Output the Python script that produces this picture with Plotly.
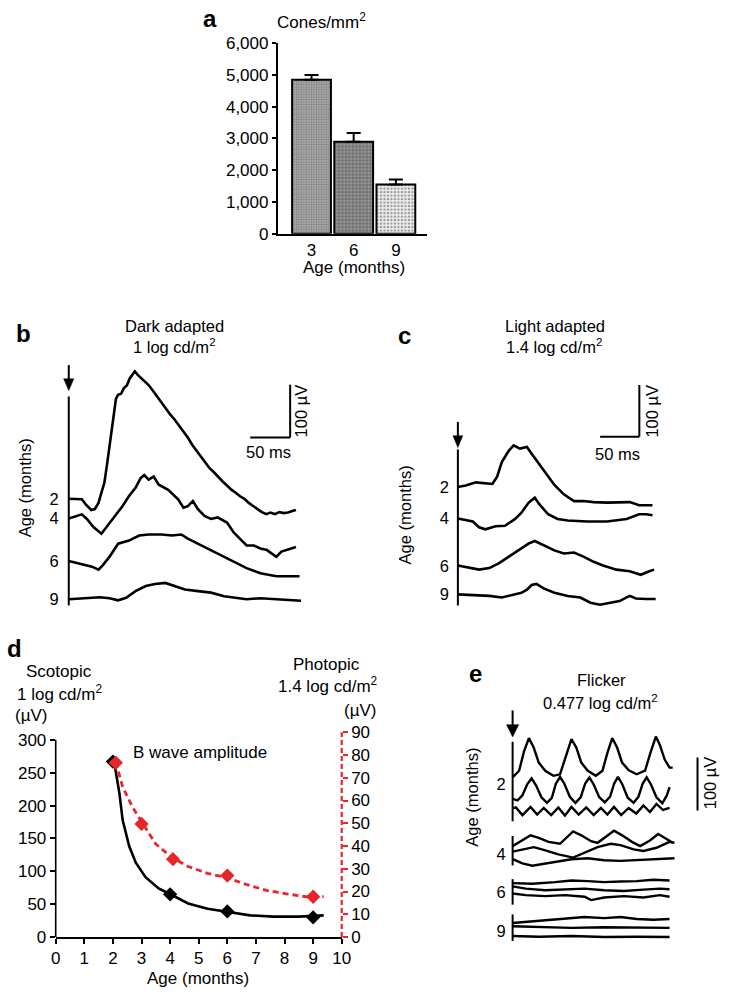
import plotly.graph_objects as go

W, H = 733, 1000
FONT = "Liberation Sans, Arial, Helvetica, sans-serif"
RED = "#e5262b"

def X(px):
    return px / W

def Y(py):
    return 1 - py / H

# ---------------- Panel a : cone density ----------------
a_ages = ["3", "6", "9"]
a_cones = [4850, 2900, 1550]
a_err = [150, 270, 160]
a_yticks = [0, 1000, 2000, 3000, 4000, 5000, 6000]

trace_ages = ["2", "4", "6", "9"]

# ---------------- Panel b : dark adapted ERG (ms, µV rel. to own baseline) ----------------
b2_t = [0, 10, 18, 24, 31, 36, 41, 45, 49, 53, 57, 61, 65, 68, 72, 76, 80, 84, 88, 91, 95, 100, 105, 110,
        116, 122, 128, 134, 140, 146, 152, 158, 164, 170, 176, 182, 188, 194, 200, 206, 212, 218, 224,
        230, 236, 242, 248, 254, 260, 266, 272, 278, 284, 290, 296, 302, 308, 313]
b2_v = [0, 0, -1, -12, -22, -20, -8, 12, 31, 70, 114, 150, 196, 204, 206, 217, 222, 236, 245, 250, 243,
        236, 231, 223, 212, 200, 190, 178, 165, 155, 143, 133, 120, 106, 95, 84, 72, 60, 52, 42, 34, 26,
        18, 12, 5, 0, -8, -14, -20, -26, -30, -27, -30, -26, -28, -27, -24, -22]
b4_t = [0, 9, 18, 25, 34, 45, 52, 61, 74, 83, 92, 99, 104, 110, 117, 124, 137, 151, 158, 164, 171, 178,
        187, 196, 205, 218, 227, 236, 245, 255, 264, 273, 286, 293, 300, 313]
b4_v = [0, 4, 8, -1, -17, -30, -17, 2, 24, 44, 60, 79, 85, 76, 82, 66, 56, 37, 21, 24, 34, 18, 5, -1, 2,
        -8, -27, -40, -53, -53, -59, -62, -75, -65, -62, -56]
b6_t = [0, 9, 20, 32, 41, 47, 56, 68, 83, 97, 110, 128, 142, 155, 164, 178, 191, 209, 227, 245, 264, 273,
        286, 304, 318]
b6_v = [0, -3, -6, -11, -17, -8, 8, 34, 40, 50, 52, 52, 50, 52, 44, 34, 24, 12, -1, -14, -24, -27, -30,
        -30, -30]
b9_t = [0, 25, 43, 56, 68, 79, 92, 106, 119, 133, 146, 160, 178, 196, 214, 227, 245, 264, 282, 304, 320]
b9_v = [0, 2, 4, 2, -2, 3, 16, 26, 30, 32, 26, 19, 16, 13, 6, 3, 0, 2, 0, -2, -3]

# ---------------- Panel c : light adapted ERG ----------------
c2_t = [0, 10, 23, 31, 44, 50, 56, 65, 71, 79, 88, 94, 102, 110, 123, 135, 148, 160, 173, 190, 206, 219,
        231, 248]
c2_v = [0, 3, 9, 8, 6, 20, 48, 70, 80, 74, 77, 64, 48, 30, 4, -14, -27, -27, -29, -30, -30, -29, -35, -35]
c4_t = [0, 10, 19, 27, 35, 48, 60, 73, 81, 90, 98, 104, 115, 127, 140, 165, 190, 215, 231, 240, 248]
c4_v = [0, -3, -6, -17, -21, -15, -14, -1, 11, 30, 40, 27, 8, -1, -4, -6, -6, -1, 8, 8, 6]
c6_t = [0, 15, 27, 40, 52, 65, 77, 90, 98, 110, 123, 135, 148, 160, 173, 185, 202, 219, 233, 244, 250]
c6_v = [2, -2, -6, -3, 6, 19, 31, 44, 49, 41, 31, 25, 27, 19, 9, 2, -6, -9, -16, -9, -6]
c9_t = [0, 19, 40, 56, 69, 81, 88, 94, 100, 110, 123, 140, 156, 169, 181, 194, 206, 219, 227, 240, 252]
c9_v = [0, -1, -3, -6, -1, 3, 9, 18, 20, 11, 3, -3, -6, -16, -20, -16, -13, -3, -8, -9, -9]

# ---------------- Panel d : B wave amplitude ----------------
d_scot_age = [2, 4, 6, 9]
d_scot = [267, 65, 39, 30]
d_scot_fit_age = [2.0, 2.06, 2.23, 2.34, 2.57, 2.8, 3.14, 3.6, 4.06, 4.63, 5.31, 6.0, 6.8, 7.6, 8.51, 9.37]
d_scot_fit = [270, 262, 218, 178, 138, 113, 91, 74, 64, 51, 43, 38, 33, 31, 31, 33]
d_phot_age = [2.1, 3.0, 4.1, 6.0, 9.0]
d_phot = [76.6, 49.7, 34.2, 27, 17.7]
d_phot_fit_age = [2.1, 2.17, 2.34, 2.69, 3.03, 3.49, 4.06, 4.63, 5.31, 6.0, 6.69, 7.37, 8.06, 8.74, 9.37]
d_phot_fit = [77, 74, 66, 57, 50, 41, 35, 31, 28, 26, 23, 20.5, 19, 17.7, 17.7]
d_xticks = list(range(0, 11))
d_left_ticks = [0, 50, 100, 150, 200, 250, 300]
d_right_ticks = [0, 10, 20, 30, 40, 50, 60, 70, 80, 90]

# ---------------- Panel e : flicker (3 recordings per age, µV rel. to age label) ----------------
e2a_t = [0, 8.3, 14.5, 20.8, 27, 33.3, 41.6, 52, 60.4, 68.8, 75, 81.3, 87.5, 95.8, 106, 114.5, 120.8, 127,
         133.3, 139.5, 148, 158, 168.8, 175, 182.5, 187.5, 193.8, 200, 204]
e2a_v = [13, 26, 64, 90, 71, 42, 26, 16, 19, 58, 88, 71, 42, 26, 16, 26, 61, 90, 71, 42, 27, 19, 26, 58,
         93, 77, 48, 32, 32]
e2b_t = [0, 6.3, 12.5, 18.8, 24.2, 30, 36.7, 43.8, 50, 55, 60.4, 65.8, 72.9, 80, 86.7, 92.5, 97.9, 103.3,
         110.4, 117.5, 124.2, 129.2, 134.2, 139.6, 146.7, 154.2, 160.4, 165.8, 170.8, 176.3, 183.3, 190.8,
         196.7, 200]
e2b_v = [-29, -32, -22, 0, 11, -3, -26, -37, -27, 0, 14, 1, -25, -37, -26, 1, 13, -1, -26, -36, -25, 0,
         14, 0, -27, -37, -25, 1, 13, -1, -26, -38, -22, -6]
e2c_t = [0, 4.2, 12.5, 22.9, 31.3, 39.6, 49.2, 58.3, 66.7, 75, 84.2, 93.8, 103.3, 112.5, 120.8, 129.2,
         138.3, 147.9, 157.5, 166.7, 175, 183.3, 191.7, 200]
e2c_v = [-48, -46, -61, -45, -60, -47, -61, -46, -62, -45, -60, -46, -61, -47, -60, -45, -61, -47, -58,
         -42, -55, -39, -51, -47]
e4a_t = [0, 10.4, 22.9, 33.3, 45.8, 60.4, 68.8, 77.1, 87.5, 100, 108.3, 118.8, 129.2, 139.6, 152.1, 162.5,
         175, 185.4, 195.8, 204.2]
e4a_v = [16.7, 26.3, 37.8, 32.7, 25, 21.2, 34, 45.5, 37.8, 26.3, 23.1, 35.9, 46.8, 37.8, 25, 16.7, 27.6,
         40.4, 31.4, 23.1]
e4b_t = [0, 12.5, 27.1, 41.7, 58.3, 77.1, 91.7, 108.3, 125, 137.5, 154.2, 166.7, 183.3, 200, 206.3]
e4b_v = [5.8, 10.3, 14.7, 8.3, 0.6, -5.8, 3.8, 14.7, 21.2, 18.6, 10.3, 7.1, 13.5, 25, 23.1]
e4c_t = [0, 12.5, 25, 41.7, 58.3, 75, 95.8, 116.7, 137.5, 158.3, 179.2, 200, 206.3]
e4c_v = [-9, -17.3, -21.8, -17.3, -12.2, -9, -7.1, -10.9, -12.2, -10.9, -9, -7.1, -7.1]
e6a_t = [0, 25, 54.2, 75, 95.8, 116.7, 137.5, 158.3, 179.2, 200]
e6a_v = [17.3, 16, 19.2, 22.4, 21.2, 19.2, 20.5, 21.2, 23.7, 22.4]
e6b_t = [0, 16.7, 41.7, 66.7, 91.7, 116.7, 141.7, 166.7, 187.5, 200]
e6b_v = [10.9, 6.4, 3.2, 4.5, 6.4, 3.2, 1.9, 4.5, 6.4, 5.1]
e6c_t = [0, 16.7, 41.7, 66.7, 91.7, 100, 116.7, 141.7, 166.7, 187.5, 200]
e6c_v = [-3.2, -6.4, -8.3, -6.4, -9.6, -16, -10.9, -8.3, -10.9, -6.4, -9.6]
e9a_t = [0, 25, 54.2, 75, 91.7, 116.7, 137.5, 158.3, 179.2, 200]
e9a_v = [16, 19.2, 22.4, 25.6, 27.6, 25.6, 27.6, 23.7, 22.4, 23.7]
e9b_t = [0, 33.3, 75, 116.7, 158.3, 200]
e9b_v = [9.6, 8.3, 6.4, 7.7, 6.4, 6.4]
e9c_t = [0, 33.3, 75, 116.7, 158.3, 200]
e9c_v = [-9.6, -10.9, -9.6, -11.5, -10.9, -11.5]

# ---------------- layout geometry (pixels) ----------------
GEO_B = dict(x0=65, x1=312, y_top=355, y_bot=615, px_ms=0.74, px_uv=0.52,
             base=[499.3, 519.3, 562.7, 601.7])
GEO_C = dict(x0=461.7, x1=690, y_top=410, y_bot=615, px_ms=0.8, px_uv=0.53,
             base=[487.3, 519.3, 568.3, 596.7])
GEO_E = dict(x0=517.5, x1=690, y_top=728, y_bot=962, px_ms=0.8, px_uv=0.52,
             base=[790, 862, 900, 940])


def geo_axes(g):
    ref = g["base"][-1]
    xr = [0, (g["x1"] - g["x0"]) / g["px_ms"]]
    yr = [(ref - g["y_bot"]) / g["px_uv"], (ref - g["y_top"]) / g["px_uv"]]
    offs = [(ref - p) / g["px_uv"] for p in g["base"]]
    return xr, yr, offs


fig = go.Figure()
LW = 2.6

# ---- a ----
fig.add_trace(go.Bar(
    x=a_ages, y=a_cones, width=0.92, xaxis="x", yaxis="y",
    marker=dict(
        color=["#b8b8b8", "#9a9a9a", "#ececec"],
        line=dict(color="black", width=2),
        pattern=dict(shape=[".", ".", "."],
                     fgcolor=["#8c8c8c", "#202020", "#a0a0a0"],
                     bgcolor=["#c6c6c6", "#f2f2f2", "#f6f6f6"],
                     size=[2.5, 3.5, 3.5], solidity=[0.5, 0.6, 0.35])),
    error_y=dict(type="data", array=a_err, arrayminus=[0, 0, 0], symmetric=False,
                 color="black", thickness=2, width=7),
))

# ---- b ----
bxr, byr, boffs = geo_axes(GEO_B)
for (t, v), off in zip([(b2_t, b2_v), (b4_t, b4_v), (b6_t, b6_v), (b9_t, b9_v)], boffs):
    fig.add_trace(go.Scatter(x=t, y=[val + off for val in v], mode="lines",
                             line=dict(color="black", width=LW), xaxis="x2", yaxis="y2"))

# ---- c ----
cxr, cyr, coffs = geo_axes(GEO_C)
for (t, v), off in zip([(c2_t, c2_v), (c4_t, c4_v), (c6_t, c6_v), (c9_t, c9_v)], coffs):
    fig.add_trace(go.Scatter(x=t, y=[val + off for val in v], mode="lines",
                             line=dict(color="black", width=LW), xaxis="x3", yaxis="y3"))

# ---- d ----
fig.add_trace(go.Scatter(x=d_scot_fit_age, y=d_scot_fit, mode="lines", line=dict(color="black", width=2.6),
                         xaxis="x4", yaxis="y4"))
fig.add_trace(go.Scatter(x=d_phot_fit_age, y=d_phot_fit, mode="lines",
                         line=dict(color=RED, width=2.8, dash="6px,4px"), xaxis="x4", yaxis="y5"))
fig.add_trace(go.Scatter(x=d_scot_age, y=d_scot, mode="markers",
                         marker=dict(symbol="diamond", size=11, color="black"), xaxis="x4", yaxis="y4"))
fig.add_trace(go.Scatter(x=d_phot_age, y=d_phot, mode="markers",
                         marker=dict(symbol="diamond", size=11, color=RED), xaxis="x4", yaxis="y5"))

# ---- e ----
exr, eyr, eoffs = geo_axes(GEO_E)
e_groups = [
    [(e2a_t, e2a_v), (e2b_t, e2b_v), (e2c_t, e2c_v)],
    [(e4a_t, e4a_v), (e4b_t, e4b_v), (e4c_t, e4c_v)],
    [(e6a_t, e6a_v), (e6b_t, e6b_v), (e6c_t, e6c_v)],
    [(e9a_t, e9a_v), (e9b_t, e9b_v), (e9c_t, e9c_v)],
]
for grp, off in zip(e_groups, eoffs):
    for t, v in grp:
        fig.add_trace(go.Scatter(x=t, y=[val + off for val in v], mode="lines",
                                 line=dict(color="black", width=2.4), xaxis="x6", yaxis="y6"))

tickfont = dict(family=FONT, size=17, color="black")
tickfont_s = dict(family=FONT, size=16.5, color="black")
hidden = dict(visible=False, showgrid=False, zeroline=False)

fig.update_layout(
    width=W, height=H, margin=dict(l=0, r=0, t=0, b=0),
    paper_bgcolor="white", plot_bgcolor="rgba(0,0,0,0)", showlegend=False,
    font=dict(family=FONT, color="black", size=16.5),
    # a
    xaxis=dict(domain=[X(278), X(430)], range=[-0.802, 2.733], anchor="y", showline=True,
               linecolor="black", linewidth=1.6, ticks="", showgrid=False, zeroline=False,
               tickfont=tickfont, ticklabelstandoff=0),
    yaxis=dict(domain=[Y(229), Y(35)], range=[0, 6000], anchor="x", tickvals=a_yticks,
               tickformat=",", showline=True, linecolor="black", linewidth=1.6, ticks="outside",
               ticklen=4, tickwidth=1.6, tickcolor="black", showgrid=False, zeroline=False,
               tickfont=tickfont),
    # b
    xaxis2=dict(domain=[X(GEO_B["x0"]), X(GEO_B["x1"])], range=bxr, anchor="y2", **hidden),
    yaxis2=dict(domain=[Y(GEO_B["y_bot"]), Y(GEO_B["y_top"])], range=byr, anchor="x2",
                tickvals=boffs, ticktext=trace_ages, ticks="", showline=False, showgrid=False,
                zeroline=False, tickfont=tickfont_s, ticklabelstandoff=9),
    # c
    xaxis3=dict(domain=[X(GEO_C["x0"]), X(GEO_C["x1"])], range=cxr, anchor="y3", **hidden),
    yaxis3=dict(domain=[Y(GEO_C["y_bot"]), Y(GEO_C["y_top"])], range=cyr, anchor="x3",
                tickvals=coffs, ticktext=trace_ages, ticks="", showline=False, showgrid=False,
                zeroline=False, tickfont=tickfont_s, ticklabelstandoff=8),
    # d
    xaxis4=dict(domain=[X(51.7), X(343.3)], range=[0, 10], anchor="y4", tickvals=d_xticks,
                showline=True, linecolor="black", linewidth=1.6, ticks="outside", ticklen=5,
                tickwidth=1.6, tickcolor="black", showgrid=False, zeroline=False, tickfont=tickfont),
    yaxis4=dict(domain=[Y(946), Y(735)], range=[0, (946 - 735) / 0.67], anchor="x4",
                tickvals=d_left_ticks, showline=False, ticks="outside", ticklen=5, tickwidth=1.6,
                tickcolor="black", showgrid=False, zeroline=False, tickfont=tickfont),
    yaxis5=dict(overlaying="y4", side="right", anchor="x4", range=[0, (946 - 735) / 2.319],
                tickvals=d_right_ticks, showline=False, ticks="outside", ticklen=5, tickwidth=2,
                tickcolor=RED, showgrid=False, zeroline=False, tickfont=tickfont),
    # e
    xaxis6=dict(domain=[X(GEO_E["x0"]), X(GEO_E["x1"])], range=exr, anchor="y6", **hidden),
    yaxis6=dict(domain=[Y(GEO_E["y_bot"]), Y(GEO_E["y_top"])], range=eyr, anchor="x6",
                tickvals=eoffs, ticktext=trace_ages, ticks="", showline=False, showgrid=False,
                zeroline=False, tickfont=tickfont_s, ticklabelstandoff=6),
)


def seg(x0, y0, x1, y1, color="black", width=2):
    return dict(type="line", xref="paper", yref="paper", x0=X(x0), y0=Y(y0), x1=X(x1), y1=Y(y1),
                line=dict(color=color, width=width))


def tri(cx, ytop, ybot, half):
    return dict(type="path", xref="paper", yref="paper",
                path=f"M {X(cx - half)},{Y(ytop)} L {X(cx + half)},{Y(ytop)} L {X(cx)},{Y(ybot)} Z",
                fillcolor="black", line=dict(color="black", width=0.5))


shapes = [
    # b axis, arrow, scale bar
    seg(65, 395, 65, 608), seg(65, 363, 65, 379), tri(65, 377, 389, 5.2),
    seg(290.7, 383, 290.7, 436.7), seg(250, 436.7, 290.7, 436.7),
    # c
    seg(461.7, 449, 461.7, 608), seg(461.7, 421, 461.7, 437), tri(461.7, 435, 447, 5.0),
    seg(646.7, 383.3, 646.7, 436), seg(606.7, 436, 646.7, 436),
    # e
    seg(517.5, 715, 517.5, 731), tri(517.5, 729.5, 742, 6.2),
    seg(517.5, 747, 517.5, 828), seg(517.5, 843, 517.5, 873),
    seg(517.5, 887, 517.5, 913), seg(517.5, 923, 517.5, 950),
    seg(706, 763, 706, 817),
    # d axes lines
    dict(type="line", xref="paper", yref="y4", x0=X(51.7), x1=X(51.7), y0=0, y1=300,
         line=dict(color="black", width=1.6)),
    dict(type="line", xref="paper", yref="y5", x0=X(343.3), x1=X(343.3), y0=0, y1=90,
         line=dict(color=RED, width=2.2, dash="5px,3px")),
]
fig.update_layout(shapes=shapes)


def txt(s, px, py, size=16.5, angle=0, xanchor="center"):
    return dict(text=s, x=X(px), y=Y(py), xref="paper", yref="paper", showarrow=False,
                xanchor=xanchor, yanchor="middle", textangle=angle,
                font=dict(size=size, color="black", family=FONT))


annots = [
    txt("<b>a</b>", 209, 10, 24),
    txt("Cones/mm<sup>2</sup>", 323, 12, 17),
    txt("Age (months)", 356, 264, 17),
    txt("<b>b</b>", 19, 331, 24),
    txt("Dark adapted", 173, 323),
    txt("1 log cd/m<sup>2</sup>", 173, 344),
    txt("Age (months)", 20, 488, angle=-90),
    txt("100 µV", 302, 410, angle=-90),
    txt("50 ms", 269, 452),
    txt("<b>c</b>", 407, 333, 24),
    txt("Light adapted", 561, 323),
    txt("1.4 log cd/m<sup>2</sup>", 560, 344),
    txt("Age (months)", 408, 516, angle=-90),
    txt("100 µV", 660, 410, angle=-90),
    txt("50 ms", 624, 454),
    txt("<b>d</b>", 10, 652, 24),
    txt("Scotopic", 55, 675, 17),
    txt("1 log cd/m<sup>2</sup>", 56, 697, 17),
    txt("(µV)", 27, 720, 17),
    txt("Photopic", 328, 668, 17),
    txt("1.4 log cd/m<sup>2</sup>", 329, 689, 17),
    txt("(µV)", 362, 715, 17),
    txt("B wave amplitude", 128, 758, 17, xanchor="left"),
    txt("Age (months)", 197, 988, 17),
    txt("<b>e</b>", 480, 677, 24),
    txt("Flicker", 608, 684),
    txt("0.477 log cd/m<sup>2</sup>", 607, 706),
    txt("Age (months)", 476, 803, angle=-90),
    txt("100 µV", 719, 789, angle=-90),
]
fig.update_layout(annotations=annots)

fig.write_html("out.html", config={"displayModeBar": False},
               post_script="document.body.style.margin='0px';")
